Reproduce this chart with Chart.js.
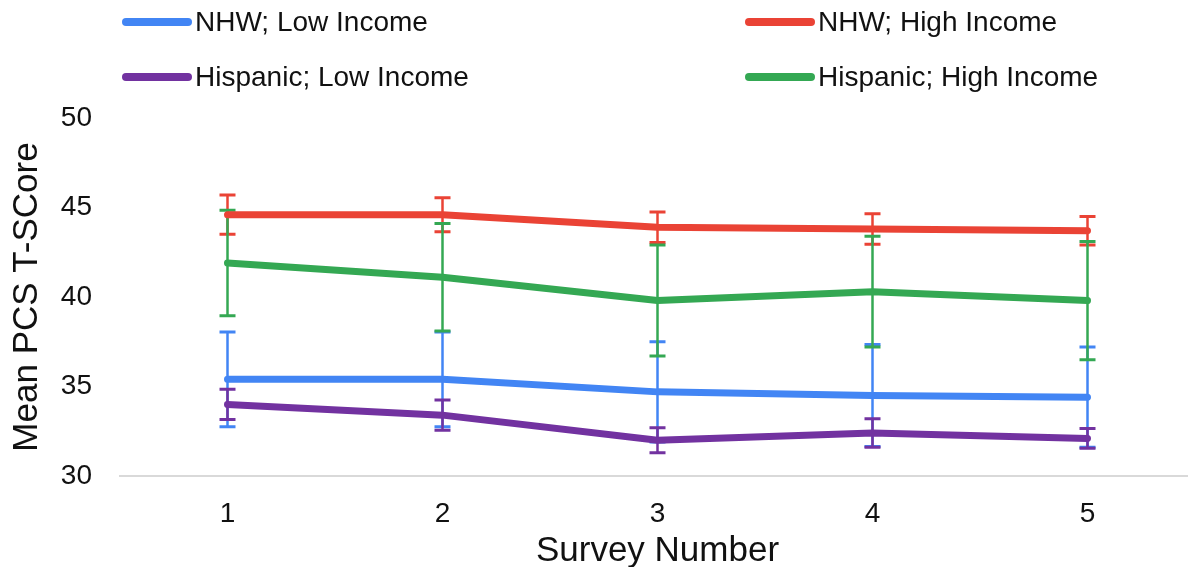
<!DOCTYPE html>
<html>
<head>
<meta charset="utf-8">
<script src="https://cdn.jsdelivr.net/npm/chart.js@4"></script>
<style>
  html, body { margin: 0; padding: 0; background: #fff; }
  #wrap { position: relative; width: 1188px; height: 567px; overflow: hidden; }
  #legend { position: absolute; left: 0; top: 0; width: 1188px; height: 110px; font-family: "Liberation Sans", Arial, sans-serif; font-size: 28px; color: #111; }
  .item { position: absolute; display: flex; align-items: center; height: 34px; white-space: nowrap; }
  .swatch { width: 70px; height: 8px; border-radius: 4px; margin-right: 3px; }
</style>
</head>
<body>
<div id="wrap">
  <canvas id="chart" width="1195" height="572"></canvas>
  <div id="legend"></div>
</div>
<script>
// Survey numbers on the x axis
const surveys = ['1', '2', '3', '4', '5'];

// mean PCS T-score per group, with half-width of the error bar
const nhwLow = [35.4, 35.4, 34.7, 34.5, 34.4];
const nhwLowErr = [2.65, 2.65, 2.8, 2.85, 2.8];
const nhwHigh = [44.6, 44.6, 43.9, 43.8, 43.7];
const nhwHighErr = [1.1, 0.95, 0.85, 0.85, 0.8];
const hispLow = [34.0, 33.4, 32.0, 32.4, 32.1];
const hispLowErr = [0.85, 0.85, 0.7, 0.8, 0.55];
const hispHigh = [41.9, 41.1, 39.8, 40.3, 39.8];
const hispHighErr = [2.95, 3.0, 3.1, 3.1, 3.3];

const yTicks = [30, 35, 40, 45, 50];

const FONT = '"Liberation Sans", Arial, sans-serif';
const INK = '#111';

function series(label, data, errors, color) {
    return {
        label, data, errors,
        borderColor: color,
        backgroundColor: color,
        borderWidth: 7,
        borderCapStyle: 'round',
        borderJoinStyle: 'round',
        pointRadius: 0,
        tension: 0,
    };
}

const datasets = [
    series('NHW; Low Income', nhwLow, nhwLowErr, '#4285f4'),
    series('NHW; High Income', nhwHigh, nhwHighErr, '#ea4335'),
    series('Hispanic; Low Income', hispLow, hispLowErr, '#7232a0'),
    series('Hispanic; High Income', hispHigh, hispHighErr, '#34a853'),
];

// error bars, drawn from the dataset's own errors through the chart scales
const errorBars = {
    id: 'errorBars',
    beforeDatasetsDraw(chart) {
        const { ctx, scales: { x, y } } = chart;
        ctx.save();
        chart.data.datasets.forEach((ds) => {
            ctx.strokeStyle = ds.borderColor;
            ds.data.forEach((v, i) => {
                const px = x.getPixelForValue(i);
                const top = y.getPixelForValue(v + ds.errors[i]);
                const bot = y.getPixelForValue(v - ds.errors[i]);
                ctx.lineWidth = 2.5;
                ctx.beginPath();
                ctx.moveTo(px, top); ctx.lineTo(px, bot);
                ctx.stroke();
                ctx.lineWidth = 3;
                ctx.beginPath();
                ctx.moveTo(px - 8, top); ctx.lineTo(px + 8, top);
                ctx.moveTo(px - 8, bot); ctx.lineTo(px + 8, bot);
                ctx.stroke();
            });
        });
        ctx.restore();
    }
};

new Chart(document.getElementById('chart'), {
    type: 'line',
    data: { labels: surveys, datasets },
    plugins: [errorBars],
    options: {
        responsive: false,
        animation: false,
        layout: { padding: { top: 118, right: 0, bottom: 0, left: 0 } },
        plugins: { legend: { display: false }, tooltip: { enabled: false } },
        scales: {
            x: {
                offset: true,
                grid: { display: false, drawTicks: false },
                border: { display: true, color: '#d9d9d9', width: 2 },
                ticks: { color: INK, font: { family: FONT, size: 28 }, padding: 21 },
                title: { display: true, text: 'Survey Number', color: INK, font: { family: FONT, size: 35 }, padding: { top: 0, bottom: 0 } },
                afterFit: (s) => { s.height = 96; },
            },
            y: {
                min: yTicks[0],
                max: yTicks[yTicks.length - 1],
                afterBuildTicks: (s) => { s.ticks = yTicks.map(v => ({ value: v })); },
                grid: { display: false, drawTicks: false },
                border: { display: false },
                ticks: { color: INK, font: { family: FONT, size: 28 }, padding: 28 },
                title: { display: true, text: 'Mean PCS T-SCore', color: INK, font: { family: FONT, size: 35 }, padding: { top: 6, bottom: 0 } },
                afterFit: (s) => { s.width = 120; },
            }
        }
    }
});

// two-column legend, filled row by row like the original
const slots = [[122, 5], [745, 5], [122, 60], [745, 60]];
const legend = document.getElementById('legend');
datasets.forEach((ds, i) => {
    const item = document.createElement('div');
    item.className = 'item';
    item.style.left = slots[i][0] + 'px';
    item.style.top = slots[i][1] + 'px';
    const sw = document.createElement('span');
    sw.className = 'swatch';
    sw.style.background = ds.borderColor;
    const txt = document.createElement('span');
    txt.textContent = ds.label;
    item.appendChild(sw);
    item.appendChild(txt);
    legend.appendChild(item);
});
</script>
</body>
</html>
